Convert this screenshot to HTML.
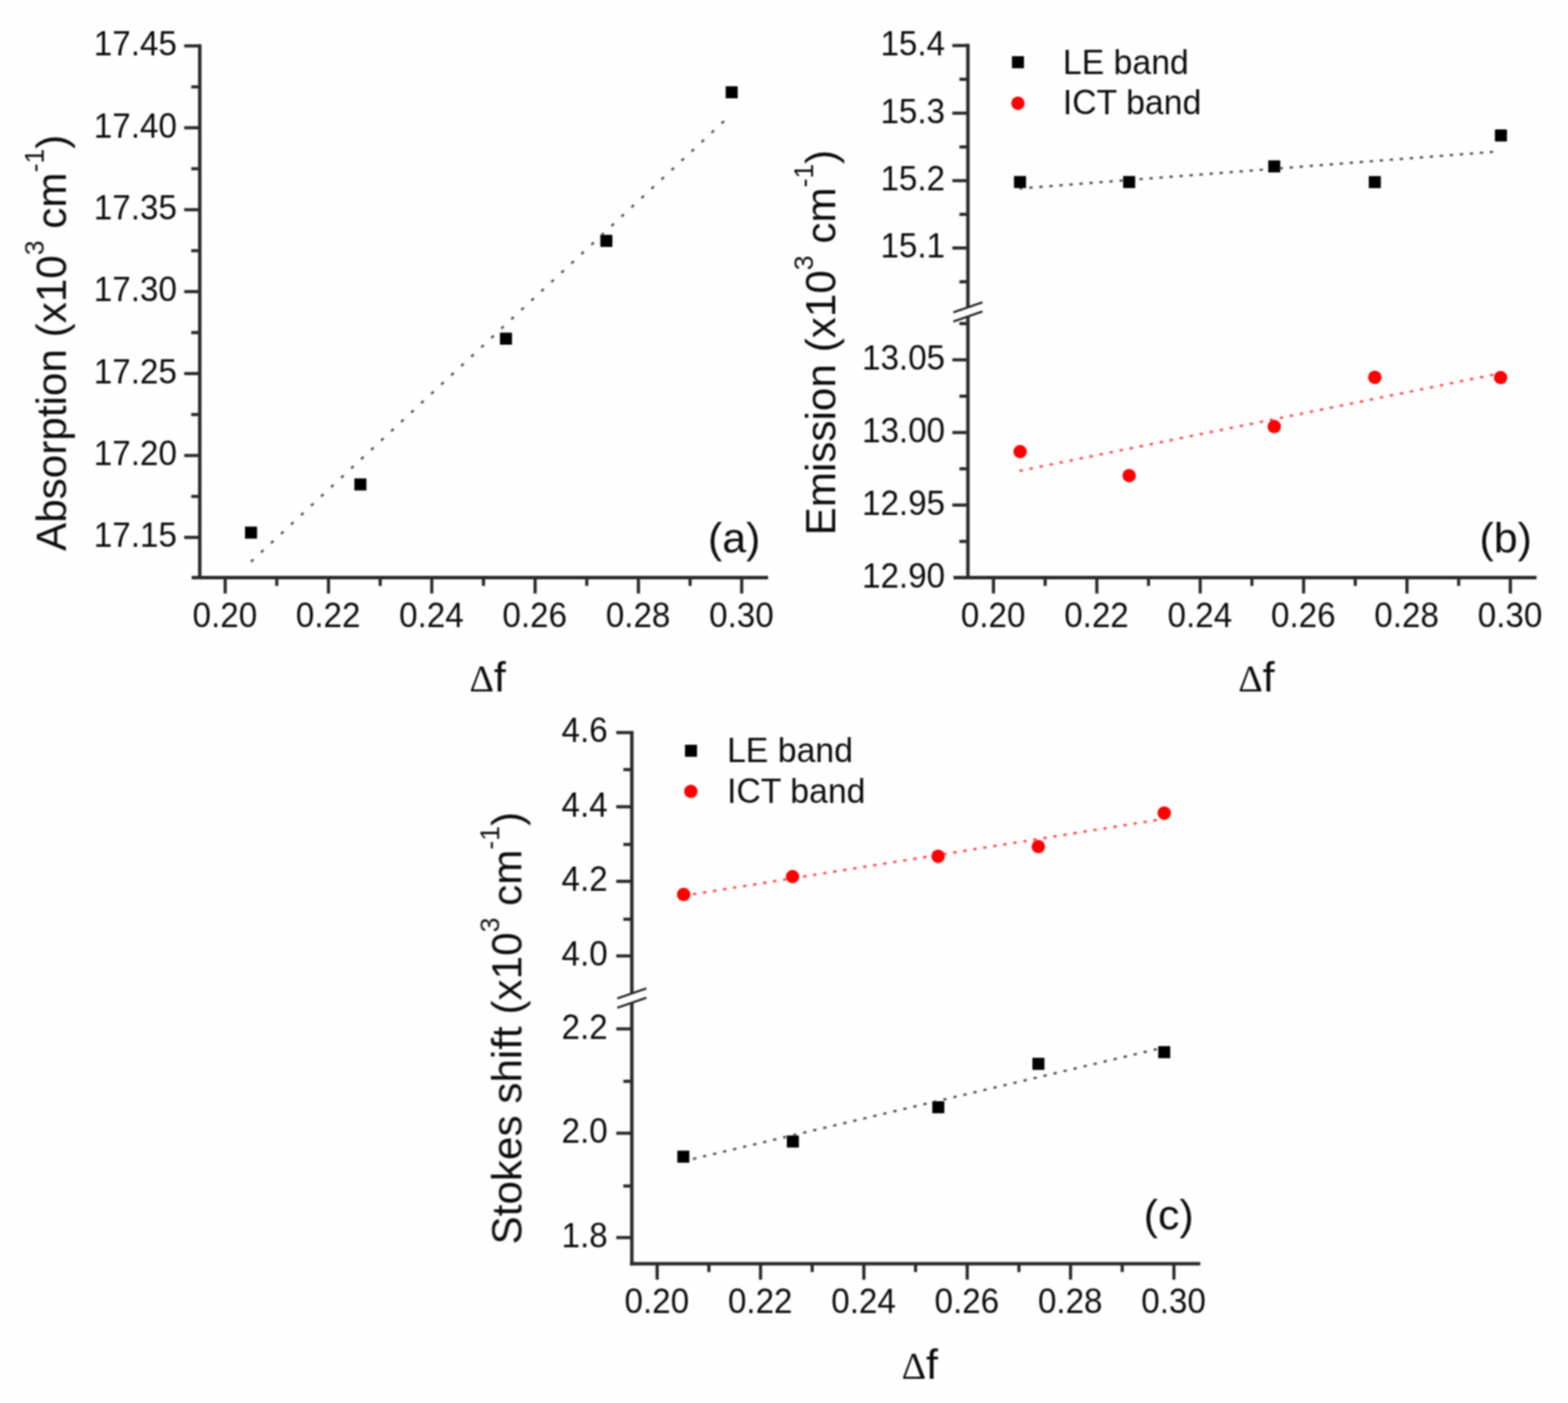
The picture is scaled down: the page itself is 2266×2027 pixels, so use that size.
<!DOCTYPE html>
<html lang="en">
<head>
<meta charset="utf-8">
<title>Solvatochromic plots: absorption, emission and Stokes shift versus &#916;f</title>
<style>
html,body{margin:0;padding:0;background:#fff;}
body{width:2266px;height:2027px;overflow:hidden;}
svg{display:block;}
text{font-family:"Liberation Sans", Arial, Helvetica, sans-serif;fill:#111;}
</style>
</head>
<body>
<svg role="img" aria-label="Absorption, emission and Stokes shift plotted against solvent polarity function" width="2266" height="2027" viewBox="0 0 2266 2027">
<defs><filter id="soft" x="-2%" y="-2%" width="104%" height="104%"><feGaussianBlur stdDeviation="1.0"/></filter></defs>
<rect width="2266" height="2027" fill="#fefefe"/>
<g filter="url(#soft)">
<g id="panel-a">
<rect x="286.2" y="63.8" width="5.0" height="773.2" fill="#2b2b2b"/>
<rect x="277.0" y="832.0" width="833.0" height="5.0" fill="#2b2b2b"/>
<rect x="266.2" y="64.0" width="22.5" height="4.6" fill="#2b2b2b"/>
<rect x="266.2" y="182.3" width="22.5" height="4.6" fill="#2b2b2b"/>
<rect x="266.2" y="300.7" width="22.5" height="4.6" fill="#2b2b2b"/>
<rect x="266.2" y="419.0" width="22.5" height="4.6" fill="#2b2b2b"/>
<rect x="266.2" y="537.4" width="22.5" height="4.6" fill="#2b2b2b"/>
<rect x="266.2" y="655.8" width="22.5" height="4.6" fill="#2b2b2b"/>
<rect x="266.2" y="774.1" width="22.5" height="4.6" fill="#2b2b2b"/>
<rect x="276.4" y="123.2" width="12.3" height="4.6" fill="#2b2b2b"/>
<rect x="276.4" y="241.5" width="12.3" height="4.6" fill="#2b2b2b"/>
<rect x="276.4" y="359.9" width="12.3" height="4.6" fill="#2b2b2b"/>
<rect x="276.4" y="478.2" width="12.3" height="4.6" fill="#2b2b2b"/>
<rect x="276.4" y="596.6" width="12.3" height="4.6" fill="#2b2b2b"/>
<rect x="276.4" y="714.9" width="12.3" height="4.6" fill="#2b2b2b"/>
<rect x="323.1" y="834.5" width="4.6" height="23.0" fill="#2b2b2b"/>
<rect x="472.4" y="834.5" width="4.6" height="23.0" fill="#2b2b2b"/>
<rect x="621.7" y="834.5" width="4.6" height="23.0" fill="#2b2b2b"/>
<rect x="771.0" y="834.5" width="4.6" height="23.0" fill="#2b2b2b"/>
<rect x="920.3" y="834.5" width="4.6" height="23.0" fill="#2b2b2b"/>
<rect x="1069.6" y="834.5" width="4.6" height="23.0" fill="#2b2b2b"/>
<rect x="397.7" y="834.5" width="4.6" height="12.0" fill="#2b2b2b"/>
<rect x="547.1" y="834.5" width="4.6" height="12.0" fill="#2b2b2b"/>
<rect x="696.4" y="834.5" width="4.6" height="12.0" fill="#2b2b2b"/>
<rect x="845.7" y="834.5" width="4.6" height="12.0" fill="#2b2b2b"/>
<rect x="995.0" y="834.5" width="4.6" height="12.0" fill="#2b2b2b"/>
<text transform="translate(255.7,80.3) scale(1,1.035)" font-size="48" text-anchor="end">17.45</text>
<text transform="translate(255.7,198.6) scale(1,1.035)" font-size="48" text-anchor="end">17.40</text>
<text transform="translate(255.7,317.0) scale(1,1.035)" font-size="48" text-anchor="end">17.35</text>
<text transform="translate(255.7,435.3) scale(1,1.035)" font-size="48" text-anchor="end">17.30</text>
<text transform="translate(255.7,553.7) scale(1,1.035)" font-size="48" text-anchor="end">17.25</text>
<text transform="translate(255.7,672.0) scale(1,1.035)" font-size="48" text-anchor="end">17.20</text>
<text transform="translate(255.7,790.4) scale(1,1.035)" font-size="48" text-anchor="end">17.15</text>
<text transform="translate(324.9,906.1) scale(1,1.035)" font-size="48" text-anchor="middle">0.20</text>
<text transform="translate(474.2,906.1) scale(1,1.035)" font-size="48" text-anchor="middle">0.22</text>
<text transform="translate(623.5,906.1) scale(1,1.035)" font-size="48" text-anchor="middle">0.24</text>
<text transform="translate(772.8,906.1) scale(1,1.035)" font-size="48" text-anchor="middle">0.26</text>
<text transform="translate(922.1,906.1) scale(1,1.035)" font-size="48" text-anchor="middle">0.28</text>
<text transform="translate(1071.4,906.1) scale(1,1.035)" font-size="48" text-anchor="middle">0.30</text>
<text transform="translate(95.2,796.0) rotate(-90) scale(0.984,1)" font-size="62">Absorption (x10<tspan font-size="39" dy="-32">3</tspan><tspan dy="32"> cm</tspan><tspan font-size="39" dy="-32">-1</tspan><tspan dy="32">)</tspan></text>
<text x="678.4" y="999.4" font-size="62"><tspan style="font-family:'Liberation Serif','Times New Roman',serif" font-size="55">&#916;</tspan><tspan x="713.8">f</tspan></text>
<text transform="translate(1061.0,798.1) scale(1,1)" font-size="62" text-anchor="middle">(a)</text>
<line x1="362.74" y1="811.59" x2="1046.35" y2="175.02" stroke="#555" stroke-width="3.4" stroke-dasharray="4.80 14.97" fill="none"/>
<rect x="354.1" y="760.8" width="17.4" height="17.4" fill="#000"/>
<rect x="512.1" y="691.2" width="17.4" height="17.4" fill="#000"/>
<rect x="722.5" y="480.6" width="17.4" height="17.4" fill="#000"/>
<rect x="867.6" y="339.3" width="17.4" height="17.4" fill="#000"/>
<rect x="1048.7" y="124.6" width="17.4" height="17.4" fill="#000"/>
</g>
<g id="panel-b">
<rect x="1396.3" y="63.3" width="5.0" height="380.7" fill="#2b2b2b"/>
<rect x="1396.3" y="457.3" width="5.0" height="379.7" fill="#2b2b2b"/>
<rect x="1377.9" y="832.0" width="842.6" height="5.0" fill="#2b2b2b"/>
<rect x="1376.3" y="63.5" width="22.5" height="4.6" fill="#2b2b2b"/>
<rect x="1376.3" y="161.2" width="22.5" height="4.6" fill="#2b2b2b"/>
<rect x="1376.3" y="258.7" width="22.5" height="4.6" fill="#2b2b2b"/>
<rect x="1376.3" y="356.0" width="22.5" height="4.6" fill="#2b2b2b"/>
<rect x="1376.3" y="517.6" width="22.5" height="4.6" fill="#2b2b2b"/>
<rect x="1376.3" y="622.6" width="22.5" height="4.6" fill="#2b2b2b"/>
<rect x="1376.3" y="727.4" width="22.5" height="4.6" fill="#2b2b2b"/>
<rect x="1386.5" y="112.3" width="12.3" height="4.6" fill="#2b2b2b"/>
<rect x="1386.5" y="210.0" width="12.3" height="4.6" fill="#2b2b2b"/>
<rect x="1386.5" y="307.4" width="12.3" height="4.6" fill="#2b2b2b"/>
<rect x="1386.5" y="404.8" width="12.3" height="4.6" fill="#2b2b2b"/>
<rect x="1386.5" y="465.2" width="12.3" height="4.6" fill="#2b2b2b"/>
<rect x="1386.5" y="570.1" width="12.3" height="4.6" fill="#2b2b2b"/>
<rect x="1386.5" y="675.0" width="12.3" height="4.6" fill="#2b2b2b"/>
<rect x="1386.5" y="779.9" width="12.3" height="4.6" fill="#2b2b2b"/>
<rect x="1433.4" y="834.5" width="4.6" height="23.0" fill="#2b2b2b"/>
<rect x="1582.8" y="834.5" width="4.6" height="23.0" fill="#2b2b2b"/>
<rect x="1732.2" y="834.5" width="4.6" height="23.0" fill="#2b2b2b"/>
<rect x="1881.6" y="834.5" width="4.6" height="23.0" fill="#2b2b2b"/>
<rect x="2031.0" y="834.5" width="4.6" height="23.0" fill="#2b2b2b"/>
<rect x="2180.4" y="834.5" width="4.6" height="23.0" fill="#2b2b2b"/>
<rect x="1508.1" y="834.5" width="4.6" height="12.0" fill="#2b2b2b"/>
<rect x="1657.5" y="834.5" width="4.6" height="12.0" fill="#2b2b2b"/>
<rect x="1806.9" y="834.5" width="4.6" height="12.0" fill="#2b2b2b"/>
<rect x="1956.3" y="834.5" width="4.6" height="12.0" fill="#2b2b2b"/>
<rect x="2105.7" y="834.5" width="4.6" height="12.0" fill="#2b2b2b"/>
<text transform="translate(1365.8,79.8) scale(1,1.035)" font-size="48" text-anchor="end">15.4</text>
<text transform="translate(1365.8,177.5) scale(1,1.035)" font-size="48" text-anchor="end">15.3</text>
<text transform="translate(1365.8,275.0) scale(1,1.035)" font-size="48" text-anchor="end">15.2</text>
<text transform="translate(1365.8,372.3) scale(1,1.035)" font-size="48" text-anchor="end">15.1</text>
<text transform="translate(1365.8,533.9) scale(1,1.035)" font-size="48" text-anchor="end">13.05</text>
<text transform="translate(1365.8,638.9) scale(1,1.035)" font-size="48" text-anchor="end">13.00</text>
<text transform="translate(1365.8,743.7) scale(1,1.035)" font-size="48" text-anchor="end">12.95</text>
<text transform="translate(1435.2,906.1) scale(1,1.035)" font-size="48" text-anchor="middle">0.20</text>
<text transform="translate(1584.6,906.1) scale(1,1.035)" font-size="48" text-anchor="middle">0.22</text>
<text transform="translate(1734.0,906.1) scale(1,1.035)" font-size="48" text-anchor="middle">0.24</text>
<text transform="translate(1883.4,906.1) scale(1,1.035)" font-size="48" text-anchor="middle">0.26</text>
<text transform="translate(2032.8,906.1) scale(1,1.035)" font-size="48" text-anchor="middle">0.28</text>
<text transform="translate(2182.2,906.1) scale(1,1.035)" font-size="48" text-anchor="middle">0.30</text>
<line x1="1377.8" y1="451.3" x2="1419.8" y2="436.7" stroke="#2b2b2b" stroke-width="3.2"/>
<line x1="1377.8" y1="464.6" x2="1419.8" y2="450.0" stroke="#2b2b2b" stroke-width="3.2"/>
<text transform="translate(1365.8,848.5) scale(1,1.035)" font-size="48" text-anchor="end">12.90</text>
<text transform="translate(1207.0,773.5) rotate(-90) scale(0.984,1)" font-size="62">Emission (x10<tspan font-size="39" dy="-32">3</tspan><tspan dy="32"> cm</tspan><tspan font-size="39" dy="-32">-1</tspan><tspan dy="32">)</tspan></text>
<text x="1789.4" y="999.4" font-size="62"><tspan style="font-family:'Liberation Serif','Times New Roman',serif" font-size="55">&#916;</tspan><tspan x="1824.8">f</tspan></text>
<text transform="translate(2176.0,798.2) scale(1,1)" font-size="62" text-anchor="middle">(b)</text>
<rect x="1462.4" y="81.2" width="17.4" height="17.4" fill="#000"/>
<circle cx="1471.1" cy="149.2" r="9.7" fill="#ff0000"/>
<text transform="translate(1536.0,107.1) scale(1.018,1.035)" font-size="48" text-anchor="start">LE band</text>
<text transform="translate(1536.0,165.3) scale(1.018,1.035)" font-size="48" text-anchor="start">ICT band</text>
<line x1="1473.11" y1="272.36" x2="2157.98" y2="219.35" stroke="#555" stroke-width="3.4" stroke-dasharray="4.80 9.71" fill="none"/>
<line x1="1473.45" y1="680.25" x2="2158.24" y2="541.34" stroke="#ff4848" stroke-width="3.4" stroke-dasharray="4.80 9.96" fill="none"/>
<rect x="1465.4" y="254.3" width="17.4" height="17.4" fill="#000"/>
<rect x="1623.1" y="254.3" width="17.4" height="17.4" fill="#000"/>
<rect x="1832.8" y="231.7" width="17.4" height="17.4" fill="#000"/>
<rect x="1978.1" y="254.4" width="17.4" height="17.4" fill="#000"/>
<rect x="2160.4" y="187.0" width="17.4" height="17.4" fill="#000"/>
<circle cx="1474.2" cy="652.5" r="9.7" fill="#ff0000"/>
<circle cx="1631.8" cy="687.1" r="9.7" fill="#ff0000"/>
<circle cx="1841.5" cy="616.3" r="9.7" fill="#ff0000"/>
<circle cx="1986.8" cy="545.2" r="9.7" fill="#ff0000"/>
<circle cx="2168.6" cy="545.5" r="9.7" fill="#ff0000"/>
</g>
<g id="panel-c">
<rect x="910.6" y="1056.0" width="5.0" height="379.3" fill="#2b2b2b"/>
<rect x="910.6" y="1448.7" width="5.0" height="379.6" fill="#2b2b2b"/>
<rect x="910.6" y="1823.3" width="824.0" height="5.0" fill="#2b2b2b"/>
<rect x="890.6" y="1056.1" width="22.5" height="4.6" fill="#2b2b2b"/>
<rect x="890.6" y="1163.3" width="22.5" height="4.6" fill="#2b2b2b"/>
<rect x="890.6" y="1271.0" width="22.5" height="4.6" fill="#2b2b2b"/>
<rect x="890.6" y="1378.8" width="22.5" height="4.6" fill="#2b2b2b"/>
<rect x="890.6" y="1484.2" width="22.5" height="4.6" fill="#2b2b2b"/>
<rect x="890.6" y="1634.9" width="22.5" height="4.6" fill="#2b2b2b"/>
<rect x="890.6" y="1785.7" width="22.5" height="4.6" fill="#2b2b2b"/>
<rect x="900.8" y="1109.6" width="12.3" height="4.6" fill="#2b2b2b"/>
<rect x="900.8" y="1217.7" width="12.3" height="4.6" fill="#2b2b2b"/>
<rect x="900.8" y="1325.8" width="12.3" height="4.6" fill="#2b2b2b"/>
<rect x="900.8" y="1559.9" width="12.3" height="4.6" fill="#2b2b2b"/>
<rect x="900.8" y="1711.2" width="12.3" height="4.6" fill="#2b2b2b"/>
<rect x="947.4" y="1825.8" width="4.6" height="23.0" fill="#2b2b2b"/>
<rect x="1096.8" y="1825.8" width="4.6" height="23.0" fill="#2b2b2b"/>
<rect x="1246.1" y="1825.8" width="4.6" height="23.0" fill="#2b2b2b"/>
<rect x="1395.5" y="1825.8" width="4.6" height="23.0" fill="#2b2b2b"/>
<rect x="1544.8" y="1825.8" width="4.6" height="23.0" fill="#2b2b2b"/>
<rect x="1694.2" y="1825.8" width="4.6" height="23.0" fill="#2b2b2b"/>
<rect x="1022.1" y="1825.8" width="4.6" height="12.0" fill="#2b2b2b"/>
<rect x="1171.4" y="1825.8" width="4.6" height="12.0" fill="#2b2b2b"/>
<rect x="1320.8" y="1825.8" width="4.6" height="12.0" fill="#2b2b2b"/>
<rect x="1470.2" y="1825.8" width="4.6" height="12.0" fill="#2b2b2b"/>
<rect x="1619.5" y="1825.8" width="4.6" height="12.0" fill="#2b2b2b"/>
<text transform="translate(878.3,1072.4) scale(1,1.035)" font-size="48" text-anchor="end">4.6</text>
<text transform="translate(878.3,1179.6) scale(1,1.035)" font-size="48" text-anchor="end">4.4</text>
<text transform="translate(878.3,1287.3) scale(1,1.035)" font-size="48" text-anchor="end">4.2</text>
<text transform="translate(878.3,1395.1) scale(1,1.035)" font-size="48" text-anchor="end">4.0</text>
<text transform="translate(878.3,1500.5) scale(1,1.035)" font-size="48" text-anchor="end">2.2</text>
<text transform="translate(878.3,1651.2) scale(1,1.035)" font-size="48" text-anchor="end">2.0</text>
<text transform="translate(878.3,1802.0) scale(1,1.035)" font-size="48" text-anchor="end">1.8</text>
<text transform="translate(949.2,1897.4) scale(1,1.035)" font-size="48" text-anchor="middle">0.20</text>
<text transform="translate(1098.6,1897.4) scale(1,1.035)" font-size="48" text-anchor="middle">0.22</text>
<text transform="translate(1247.9,1897.4) scale(1,1.035)" font-size="48" text-anchor="middle">0.24</text>
<text transform="translate(1397.3,1897.4) scale(1,1.035)" font-size="48" text-anchor="middle">0.26</text>
<text transform="translate(1546.6,1897.4) scale(1,1.035)" font-size="48" text-anchor="middle">0.28</text>
<text transform="translate(1696.0,1897.4) scale(1,1.035)" font-size="48" text-anchor="middle">0.30</text>
<line x1="892.1" y1="1442.6" x2="934.1" y2="1428.0" stroke="#2b2b2b" stroke-width="3.2"/>
<line x1="892.1" y1="1456.0" x2="934.1" y2="1441.4" stroke="#2b2b2b" stroke-width="3.2"/>
<text transform="translate(753.4,1798.0) rotate(-90) scale(0.984,1)" font-size="62">Stokes shift (x10<tspan font-size="39" dy="-32">3</tspan><tspan dy="32"> cm</tspan><tspan font-size="39" dy="-32">-1</tspan><tspan dy="32">)</tspan></text>
<text x="1302.9" y="1991.5" font-size="62"><tspan style="font-family:'Liberation Serif','Times New Roman',serif" font-size="55">&#916;</tspan><tspan x="1338.3">f</tspan></text>
<text transform="translate(1689.0,1775.8) scale(1,1)" font-size="62" text-anchor="middle">(c)</text>
<rect x="989.9" y="1076.0" width="17.4" height="17.4" fill="#000"/>
<circle cx="998.4" cy="1143.4" r="9.7" fill="#ff0000"/>
<text transform="translate(1050.7,1100.9) scale(1.018,1.035)" font-size="48" text-anchor="start">LE band</text>
<text transform="translate(1050.7,1159.5) scale(1.018,1.035)" font-size="48" text-anchor="start">ICT band</text>
<line x1="987.03" y1="1294.25" x2="1671.86" y2="1184.73" stroke="#ff4848" stroke-width="3.4" stroke-dasharray="4.80 9.85" fill="none"/>
<line x1="987.06" y1="1677.76" x2="1671.83" y2="1515.75" stroke="#555" stroke-width="3.4" stroke-dasharray="4.80 10.07" fill="none"/>
<circle cx="988.0" cy="1292.3" r="9.7" fill="#ff0000"/>
<circle cx="1145.4" cy="1266.5" r="9.7" fill="#ff0000"/>
<circle cx="1355.7" cy="1237.2" r="9.7" fill="#ff0000"/>
<circle cx="1500.6" cy="1223.1" r="9.7" fill="#ff0000"/>
<circle cx="1682.5" cy="1174.7" r="9.7" fill="#ff0000"/>
<rect x="978.8" y="1662.4" width="17.4" height="17.4" fill="#000"/>
<rect x="1137.1" y="1640.5" width="17.4" height="17.4" fill="#000"/>
<rect x="1347.3" y="1591.0" width="17.4" height="17.4" fill="#000"/>
<rect x="1492.0" y="1528.3" width="17.4" height="17.4" fill="#000"/>
<rect x="1673.8" y="1511.4" width="17.4" height="17.4" fill="#000"/>
</g>
</g>
</svg>
</body>
</html>
